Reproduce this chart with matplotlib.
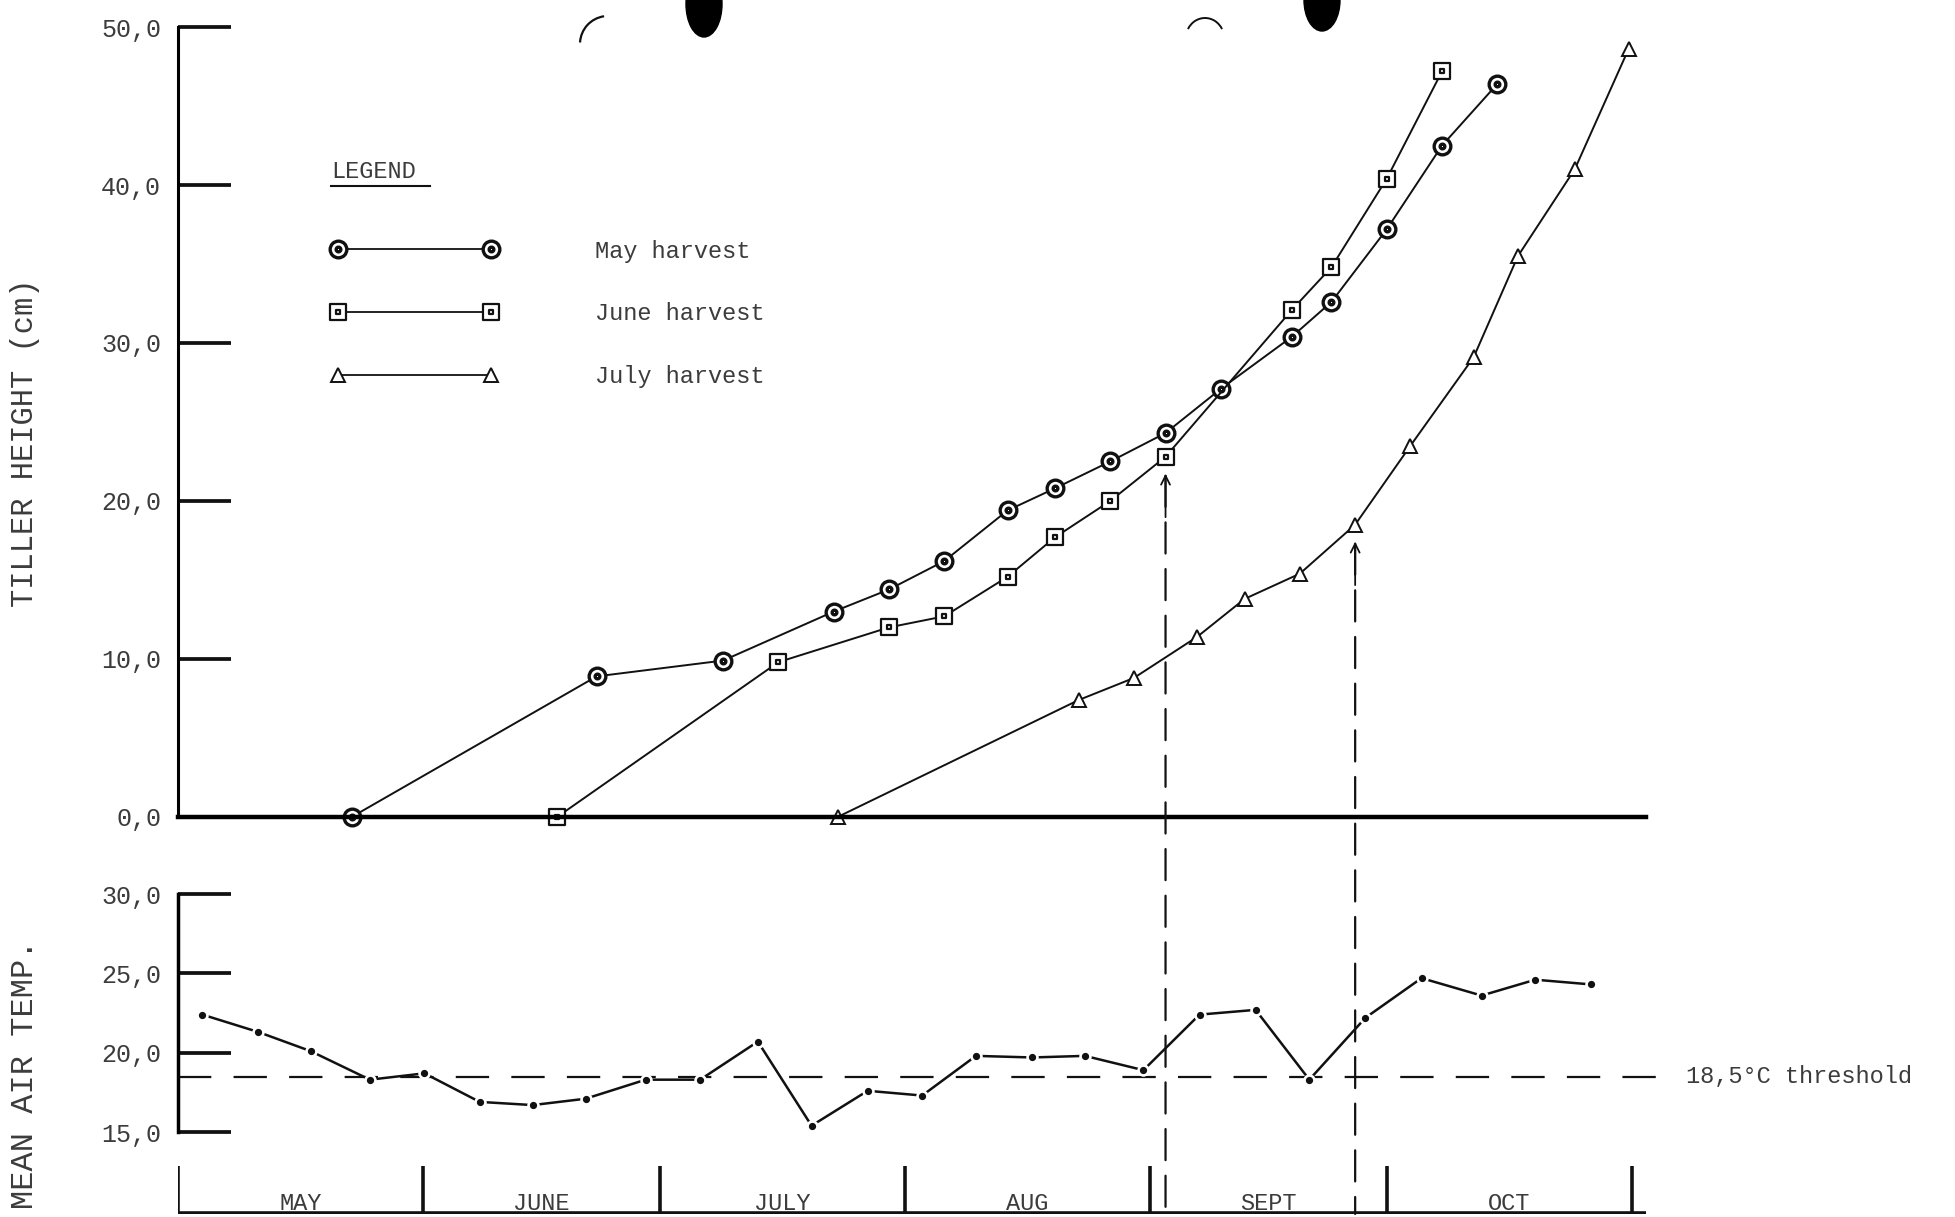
import matplotlib
matplotlib.use("Agg")
import matplotlib.pyplot as plt
from matplotlib.path import Path
from matplotlib.patches import ConnectionPatch, Ellipse, Arc
from matplotlib.lines import Line2D

plt.rcParams["font.family"] = ["Liberation Mono", "DejaVu Sans Mono"]

# Regrowth height after each harvest; x is days counted from 1 May
may_days = [22, 53, 69, 83, 90, 97, 105, 111, 118, 125, 132, 141, 146, 153, 160, 167]
may_height = [0.0, 8.9, 9.9, 13.0, 14.4, 16.2, 19.4, 20.8, 22.5, 24.3, 27.1, 30.4, 32.6, 37.2, 42.5, 46.4]

june_days = [48, 76, 90, 97, 105, 111, 118, 125, 141, 146, 153, 160]
june_height = [0.0, 9.8, 12.0, 12.7, 15.2, 17.7, 20.0, 22.8, 32.1, 34.8, 40.4, 47.2]

july_days = [83.5, 114, 121, 129, 135, 142, 149, 156, 164, 169.6, 176.8, 183.6]
july_height = [0.0, 7.4, 8.8, 11.4, 13.8, 15.4, 18.5, 23.5, 29.1, 35.5, 41.0, 48.6]

# Weekly mean air temperature
temp_days = [3.1, 10.2, 16.8, 24.3, 31.2, 38.2, 44.9, 51.6, 59.2, 66.1, 73.4, 80.2, 87.3,
             94.2, 101.0, 108.1, 114.8, 122.2, 129.3, 136.4, 143.2, 150.3, 157.4, 165.0,
             171.8, 178.9]
temp_mean = [22.4, 21.3, 20.1, 18.3, 18.7, 16.9, 16.7, 17.1, 18.3, 18.3, 20.7, 15.4, 17.6,
             17.3, 19.8, 19.7, 19.8, 18.9, 22.4, 22.7, 18.3, 22.2, 24.7, 23.6, 24.6, 24.3]
threshold = 18.5
threshold_label = "18,5°C threshold"

month_edges = [0, 31, 61, 92, 123, 153, 184]
month_names = ["MAY", "JUNE", "JULY", "AUG", "SEPT", "OCT"]

height_ticks = [0, 10, 20, 30, 40, 50]
height_ticklabels = ["0,0", "10,0", "20,0", "30,0", "40,0", "50,0"]
temp_ticks = [15, 20, 25, 30]
temp_ticklabels = ["15,0", "20,0", "25,0", "30,0"]

series_labels = ["May harvest", "June harvest", "July harvest"]

INK = "#111111"
TXT = "#3c3c3c"
FS = 17

# typewriter-style symbols: circle and square with a centre dot
circ_marker = Path.make_compound_path(Path.unit_circle(), Path.circle((0, 0), 0.28))
sq_out = Path([(-1, -1), (1, -1), (1, 1), (-1, 1), (-1, -1)],
              [Path.MOVETO, Path.LINETO, Path.LINETO, Path.LINETO, Path.CLOSEPOLY])
sq_in = Path([(-.22, -.22), (.22, -.22), (.22, .22), (-.22, .22), (-.22, -.22)],
             [Path.MOVETO, Path.LINETO, Path.LINETO, Path.LINETO, Path.CLOSEPOLY])
sq_marker = Path.make_compound_path(sq_out, sq_in)

styles = [
    dict(marker=circ_marker, ms=12, mew=2.4),
    dict(marker=sq_marker, ms=11, mew=1.6),
    dict(marker="^", ms=10, mew=1.4),
]

fig = plt.figure(figsize=(19.55, 12.17), dpi=100)
fig.patch.set_facecolor("white")

L, W = 0.0910, 0.7509
ax = fig.add_axes([L, 0.3287, W, 0.6491])
axt = fig.add_axes([L, 0.0698, W, 0.1956])
axm = fig.add_axes([L, 0.0025, W, 0.0394])

XMAX = 185.8

# ---- regrowth height panel ----
ax.set_xlim(0, XMAX)
ax.set_ylim(0, 50)
for s in ("top", "right"):
    ax.spines[s].set_visible(False)
ax.spines["left"].set_linewidth(2.2)
ax.spines["bottom"].set_linewidth(3.2)
ax.set_xticks([])
ax.set_yticks(height_ticks)
ax.set_yticklabels(height_ticklabels)
ax.tick_params(axis="y", direction="in", length=38, width=2.7, pad=12,
               labelsize=FS + 1, labelcolor=TXT, color=INK)

handles = []
for (dx, hy, st, lab) in zip([may_days, june_days, july_days],
                             [may_height, june_height, july_height], styles, series_labels):
    ax.plot(dx, hy, color=INK, lw=1.4, mfc="white", mec=INK, clip_on=False, **st)
    handles.append(Line2D([], [], color=INK, lw=1.3, mfc="white", mec=INK, **st))

leg = ax.legend(handles, series_labels, numpoints=2, loc="upper left",
                bbox_to_anchor=(0.104, 0.731), frameon=False, handlelength=7.1,
                handletextpad=4.1, labelspacing=1.68, borderpad=0, borderaxespad=0,
                prop={"family": "Liberation Mono", "size": FS})
for t in leg.get_texts():
    t.set_color(TXT)

ax.text(0.1045, 0.8167, "LEGEND", transform=ax.transAxes, ha="left", va="center",
        fontsize=FS, color=TXT)
ax.plot([0.1045, 0.1716], [0.799, 0.799], transform=ax.transAxes, color=INK, lw=1.5)

# ---- mean air temperature panel ----
axt.set_xlim(0, XMAX)
axt.set_ylim(15, 30)
for s in ("top", "right", "bottom"):
    axt.spines[s].set_visible(False)
axt.spines["left"].set_linewidth(2.5)
axt.set_xticks([])
axt.set_yticks(temp_ticks)
axt.set_yticklabels(temp_ticklabels)
axt.tick_params(axis="y", direction="in", length=38, width=2.7, pad=12,
                labelsize=FS + 1, labelcolor=TXT, color=INK)

axt.plot([0, 188.2], [threshold, threshold], color=INK, lw=1.6,
         ls=(0, (15, 10)), clip_on=False)
axt.text(190.9, threshold, threshold_label, ha="left", va="center", fontsize=FS,
         color=TXT, clip_on=False)

axt.plot(temp_days, temp_mean, color=INK, lw=1.8, zorder=3)
axt.plot(temp_days, temp_mean, "o", ms=9, mfc="white", mec="none", zorder=4)
axt.plot(temp_days, temp_mean, "o", ms=4.2, color=INK, zorder=5)

# ---- month strip ----
axm.set_xlim(0, XMAX)
axm.set_ylim(0, 1)
axm.axis("off")
axm.vlines(month_edges, 0, 1, color=INK, lw=2.6)
axm.plot([0, XMAX], [0.02, 0.02], color=INK, lw=2.6)
for i, name in enumerate(month_names):
    axm.text((month_edges[i] + month_edges[i + 1]) / 2, 0.22, name, ha="center",
             va="center", fontsize=FS, color=TXT)

# ---- harvest markers: dashed drop lines from the curves to the month strip ----
for hx, hy in [(june_days[7], june_height[7]), (july_days[6], july_height[6])]:
    con = ConnectionPatch(xyA=(hx, hy - 1.2), coordsA=ax.transData,
                          xyB=(hx, 0.0), coordsB=axm.transData,
                          color=INK, lw=1.6, linestyle=(0, (14, 7)))
    fig.add_artist(con)
    ax.annotate("", xy=(hx, hy - 0.9), xytext=(hx, hy - 4.0),
                arrowprops=dict(arrowstyle="->", lw=1.3, color=INK, mutation_scale=16))

# ---- axis titles ----
fig.text(0.0128, 0.636, "TILLER HEIGHT (cm)", rotation=90, ha="center", va="center",
         fontsize=22, color=TXT)
fig.text(0.0128, 0.117, "MEAN AIR TEMP.", rotation=90, ha="center", va="center",
         fontsize=23, color=TXT)

# punch-hole shadows and curl marks along the top edge of the sheet
fig.add_artist(Ellipse((704 / 1955, 1 - 4 / 1217), 36 / 1955, 66 / 1217,
                       transform=fig.transFigure, color="black"))
fig.add_artist(Ellipse((1322 / 1955, 1 - 0 / 1217), 36 / 1955, 62 / 1217,
                       transform=fig.transFigure, color="black"))
fig.add_artist(Arc((608 / 1955, 1 - 44 / 1217), 56 / 1955, 56 / 1217, theta1=95,
                   theta2=175, transform=fig.transFigure, color=INK, lw=1.6))
fig.add_artist(Arc((1205 / 1955, 1 - 38 / 1217), 38 / 1955, 40 / 1217, theta1=40,
                   theta2=140, transform=fig.transFigure, color=INK, lw=1.4))

fig.savefig("out.png", dpi=100, facecolor="white")
